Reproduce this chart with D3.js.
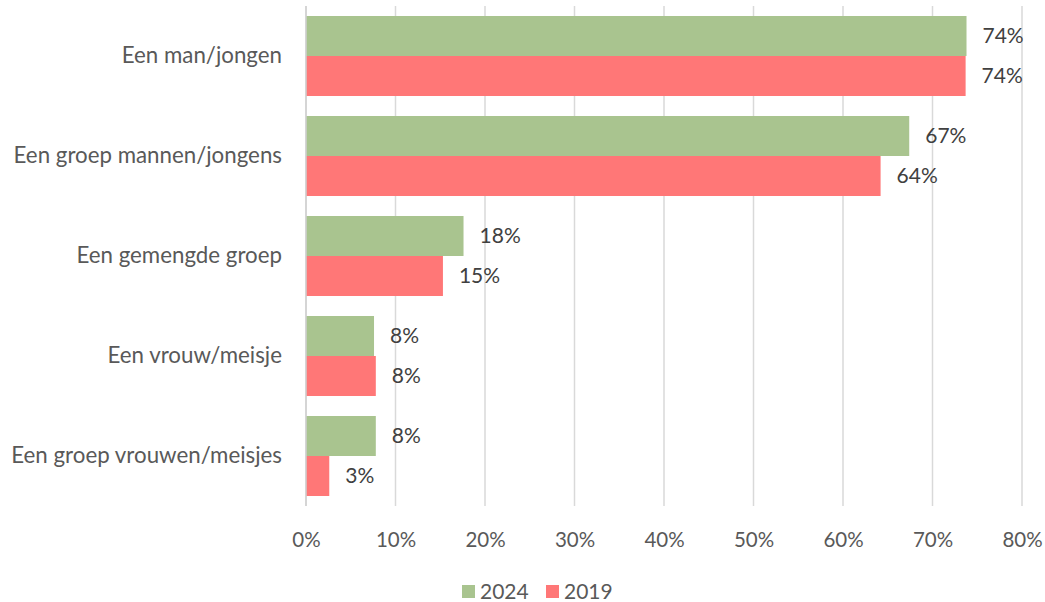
<!DOCTYPE html>
<html><head><meta charset="utf-8">
<script src="https://cdn.jsdelivr.net/npm/d3@7"></script>
<style>body{margin:0;background:#fff}svg{display:block}text{font-family:Lato,"Open Sans",sans-serif}</style>
</head><body><svg id="c" width="1045" height="602"></svg>
<script>
const categories = ["Een man/jongen","Een groep mannen/jongens","Een gemengde groep","Een vrouw/meisje","Een groep vrouwen/meisjes"];
const series = ["2024","2019"];
const values2024 = [73.8, 67.4, 17.6, 7.6, 7.8];
const values2019 = [73.7, 64.2, 15.3, 7.8, 2.6];
const labels2024 = ["74%","67%","18%","8%","8%"];
const labels2019 = ["74%","64%","15%","8%","3%"];
const ticks = [0,10,20,30,40,50,60,70,80];
const colors = {"2024":"#a9c48f","2019":"#ff7777"};

const svg = d3.select("#c");
const x = d3.scaleLinear().domain([0,80]).range([306,1022]);
const y = d3.scaleBand().domain(categories).range([6,506]).paddingInner(0.2).paddingOuter(0.1);
const y1 = d3.scaleBand().domain(series).range([0,y.bandwidth()]);

// grid
svg.append("g").selectAll("line").data(ticks).join("line")
  .attr("x1",d=>x(d)).attr("x2",d=>x(d)).attr("y1",6).attr("y2",506)
  .attr("stroke","#d9d9d9").attr("stroke-width",1.5);

const data = categories.map((c,i)=>({c, v:{"2024":values2024[i],"2019":values2019[i]}, l:{"2024":labels2024[i],"2019":labels2019[i]}}));
const g = svg.append("g").selectAll("g").data(data).join("g")
  .attr("transform",d=>`translate(0,${y(d.c)})`);
g.selectAll("rect").data(d=>series.map(s=>({s,v:d.v[s]}))).join("rect")
  .attr("x",x(0)).attr("y",d=>y1(d.s)).attr("width",d=>x(d.v)-x(0)).attr("height",y1.bandwidth())
  .attr("fill",d=>colors[d.s]);
g.selectAll("text").data(d=>series.map(s=>({s,v:d.v[s],l:d.l[s]}))).join("text")
  .attr("x",d=>x(d.v)+16).attr("y",d=>y1(d.s)+y1.bandwidth()/2).attr("dy","0.35em")
  .attr("font-size",21).attr("fill","#404040").text(d=>d.l);

// zero line
svg.append("line").attr("x1",x(0)).attr("x2",x(0)).attr("y1",6).attr("y2",506).attr("stroke","#d0d0d0").attr("stroke-width",1.5);

// category axis
const ya = d3.axisLeft(y).tickSize(0).tickPadding(24);
svg.append("g").attr("transform",`translate(${x(0)},0)`).call(ya)
  .call(s=>s.select(".domain").remove())
  .selectAll("text").attr("font-size",22.3).attr("fill","#595959").attr("font-family","Lato,'Open Sans',sans-serif");

// value axis
const xa = d3.axisBottom(x).tickValues(ticks).tickFormat(d=>d+"%").tickSize(0).tickPadding(26);
svg.append("g").attr("transform","translate(0,506)").call(xa)
  .call(s=>s.select(".domain").remove())
  .selectAll("text").attr("font-size",20.5).attr("fill","#595959").attr("font-family","Lato,'Open Sans',sans-serif");

// legend
const leg = svg.append("g").selectAll("g").data(series).join("g")
  .attr("transform",(d,i)=>`translate(${i?546:462},585)`);
leg.append("rect").attr("width",13).attr("height",13).attr("fill",d=>colors[d]);
leg.append("text").attr("x",18).attr("y",7).attr("dy","0.35em").attr("font-size",21).attr("fill","#595959").text(d=>d);
</script></body></html>
